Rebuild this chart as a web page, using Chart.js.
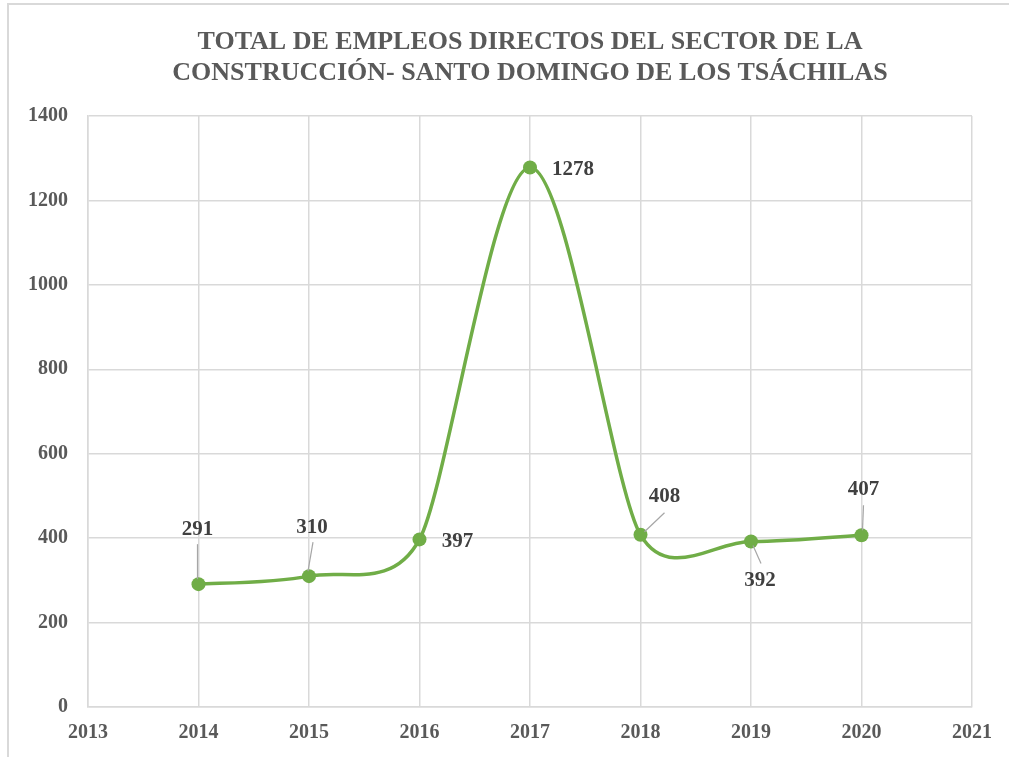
<!DOCTYPE html>
<html>
<head>
<meta charset="utf-8">
<script src="https://cdn.jsdelivr.net/npm/chart.js@4.4.0/dist/chart.umd.min.js"></script>
<style>
  html, body { margin: 0; padding: 0; background: #ffffff; overflow: hidden; }
  #frame { position: absolute; left: 7px; top: 3px; width: 1200px; height: 900px;
           border-top: 2px solid #d9d9d9; border-left: 2px solid #d9d9d9; }
  #c { position: absolute; left: 0; top: 0; }
</style>
</head>
<body>
<div id="frame"></div>
<canvas id="c" width="1009" height="757"></canvas>
<script>
const years = [2014, 2015, 2016, 2017, 2018, 2019, 2020];
const empleos = [291, 310, 397, 1278, 408, 392, 407];
const titleLines = ['TOTAL DE EMPLEOS DIRECTOS DEL SECTOR DE LA', 'CONSTRUCCIÓN- SANTO DOMINGO DE LOS TSÁCHILAS'];
const xTickMin = 2013, xTickMax = 2021, yTickMax = 1400, yTickStep = 200;

// label placement (text centre offset from point, leader line from/to offsets)
const labelPlacement = [
  { dx: -1, dy: -55, lead: [[-1, -40], [-1, -5]] },
  { dx: 3,  dy: -49, lead: [[4, -34], [-1, -5]] },
  { dx: 38, dy: 2,   lead: null },
  { dx: 43, dy: 2,   lead: null },
  { dx: 24, dy: -38, lead: [[24, -22], [4, -3]] },
  { dx: 9,  dy: 39,  lead: [[10, 22], [2, 4]] },
  { dx: 2,  dy: -46, lead: [[2, -30], [1, -5]] }
];

const serif = "'Liberation Serif', 'Times New Roman', serif";

// Spreadsheet-style smoothing: Bezier handles = f * (next - prev), f = 1/6,
// limited so that a handle never exceeds half of its adjacent segment.
const spreadsheetSmoothing = {
  id: 'spreadsheetSmoothing',
  beforeDatasetsDraw(chart) {
    const meta = chart.getDatasetMeta(0);
    const line = meta.dataset;
    if (line && line.updateControlPoints) line.updateControlPoints(chart.chartArea);
    const pts = meta.data;
    const n = pts.length;
    const dist = (a, b) => Math.hypot(b.x - a.x, b.y - a.y);
    for (let i = 0; i < n; i++) {
      const p1 = pts[i];
      const p0 = pts[i - 1] || p1;
      const p2 = pts[i + 1] || p1;
      const d02 = dist(p0, p2);
      const d01 = dist(p0, p1);
      const d12 = dist(p1, p2);
      let fIn = 1 / 6, fOut = 1 / 6;
      if (d02 > 0) {
        const f = Math.min(1 / 6, (i > 0 ? d01 / 2 : Infinity) / d02, (i < n - 1 ? d12 / 2 : Infinity) / d02);
        fIn = f; fOut = f;
      }
      const tx = p2.x - p0.x, ty = p2.y - p0.y;
      p1.cp1x = p1.x - fIn * tx;
      p1.cp1y = p1.y - fIn * ty;
      p1.cp2x = p1.x + fOut * tx;
      p1.cp2y = p1.y + fOut * ty;
    }
  }
};

const titleDraw = {
  id: 'titleDraw',
  afterDraw(chart) {
    const ctx = chart.ctx;
    const area = chart.chartArea;
    ctx.save();
    ctx.fillStyle = '#595959';
    ctx.font = "bold 26px " + serif;
    ctx.textAlign = 'center';
    ctx.textBaseline = 'alphabetic';
    const cx = (area.left + area.right) / 2;
    ctx.fillText(titleLines[0], cx, 49);
    ctx.fillText(titleLines[1], cx, 80);
    ctx.restore();
  }
};

const dataLabels = {
  id: 'dataLabels',
  afterDatasetsDraw(chart) {
    const ctx = chart.ctx;
    const meta = chart.getDatasetMeta(0);
    ctx.save();
    meta.data.forEach((pt, i) => {
      const p = labelPlacement[i];
      if (p.lead) {
        ctx.strokeStyle = '#a6a6a6';
        ctx.lineWidth = 1.2;
        ctx.beginPath();
        ctx.moveTo(pt.x + p.lead[0][0], pt.y + p.lead[0][1]);
        ctx.lineTo(pt.x + p.lead[1][0], pt.y + p.lead[1][1]);
        ctx.stroke();
      }
    });
    ctx.fillStyle = '#404040';
    ctx.font = "bold 21px " + serif;
    ctx.textAlign = 'center';
    ctx.textBaseline = 'middle';
    meta.data.forEach((pt, i) => {
      const p = labelPlacement[i];
      ctx.fillText(String(empleos[i]), pt.x + p.dx, pt.y + p.dy);
    });
    ctx.restore();
  }
};

new Chart(document.getElementById('c'), {
  type: 'line',
  data: {
    datasets: [{
      data: years.map((y, i) => ({ x: y, y: empleos[i] })),
      borderColor: '#70ad47',
      backgroundColor: '#70ad47',
      borderWidth: 3.5,
      pointRadius: 7,
      pointBackgroundColor: '#70ad47',
      pointBorderColor: '#70ad47',
      pointBorderWidth: 0,
      tension: 0.4,
      fill: false
    }]
  },
  options: {
    responsive: false,
    animation: false,
    layout: { padding: { left: 0, right: 37, top: 116, bottom: 0 } },
    plugins: {
      legend: { display: false },
      tooltip: { enabled: false },
      title: { display: false }
    },
    scales: {
      x: {
        type: 'linear',
        min: xTickMin,
        max: xTickMax,
        afterFit(scale) { scale.height = 50; },
        ticks: {
          stepSize: 1,
          padding: 14,
          color: '#595959',
          font: { family: serif, size: 20, weight: 'bold' },
          callback: v => String(v)
        },
        grid: { color: '#d9d9d9', lineWidth: 1.5, drawTicks: false },
        border: { color: '#d9d9d9', width: 1.5 }
      },
      y: {
        min: 0,
        max: yTickMax,
        afterFit(scale) { scale.width = 88; },
        ticks: {
          stepSize: yTickStep,
          padding: 20,
          color: '#595959',
          font: { family: serif, size: 20, weight: 'bold' },
          callback: v => String(v)
        },
        grid: { color: '#d9d9d9', lineWidth: 1.5, drawTicks: false },
        border: { color: '#d9d9d9', width: 1.5 }
      }
    }
  },
  plugins: [spreadsheetSmoothing, dataLabels, titleDraw]
});
</script>
</body>
</html>
